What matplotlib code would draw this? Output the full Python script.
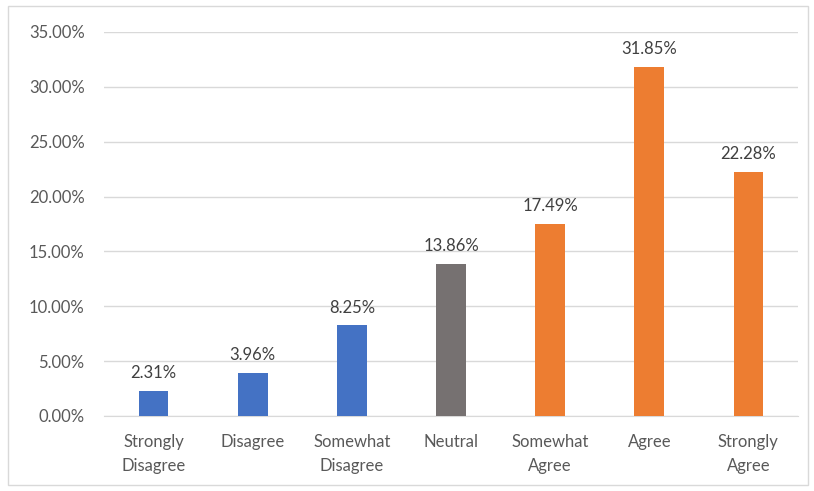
import matplotlib.pyplot as plt
from matplotlib.patches import Rectangle
import numpy as np

categories = ['Strongly\nDisagree', 'Disagree', 'Somewhat\nDisagree', 'Neutral',
              'Somewhat\nAgree', 'Agree', 'Strongly\nAgree']
values = [2.31, 3.96, 8.25, 13.86, 17.49, 31.85, 22.28]
colors = ['#4472C4', '#4472C4', '#4472C4', '#767171', '#ED7D31', '#ED7D31', '#ED7D31']
yticks = [0, 5, 10, 15, 20, 25, 30, 35]

plt.rcParams['font.family'] = ['Lato', 'DejaVu Sans']

fig = plt.figure(figsize=(8.14, 4.91), dpi=100)
fig.patches.append(Rectangle((8 / 814, 6 / 491), 800 / 814, 479 / 491,
                             transform=fig.transFigure, fill=False,
                             edgecolor='#D9D9D9', linewidth=1))
ax = fig.add_axes([104 / 814, 1 - 416 / 491, 694 / 814, 384 / 491])

x = np.arange(len(categories))
bars = ax.bar(x, values, width=0.3, color=colors, zorder=3)
for xi, v in zip(x, values):
    ax.text(xi, v + 0.9, f'{v:.2f}%', ha='center', va='bottom',
            fontsize=12, color='#404040')

ax.set_xlim(-0.5, len(categories) - 0.5)
ax.set_ylim(0, 35)
ax.set_yticks(yticks)
ax.set_yticklabels([f'{t:.2f}%' for t in yticks], fontsize=12, color='#595959')
ax.set_xticks(x)
ax.set_xticklabels(categories, fontsize=12, color='#595959', linespacing=1.6)
ax.tick_params(axis='both', length=0)
ax.tick_params(axis='x', pad=13)
ax.tick_params(axis='y', pad=14)
ax.grid(axis='y', color='#D9D9D9', linewidth=1, zorder=0)
for s in ['top', 'right', 'left']:
    ax.spines[s].set_visible(False)
ax.spines['bottom'].set_color('#D9D9D9')

fig.savefig('out.png', dpi=100)
